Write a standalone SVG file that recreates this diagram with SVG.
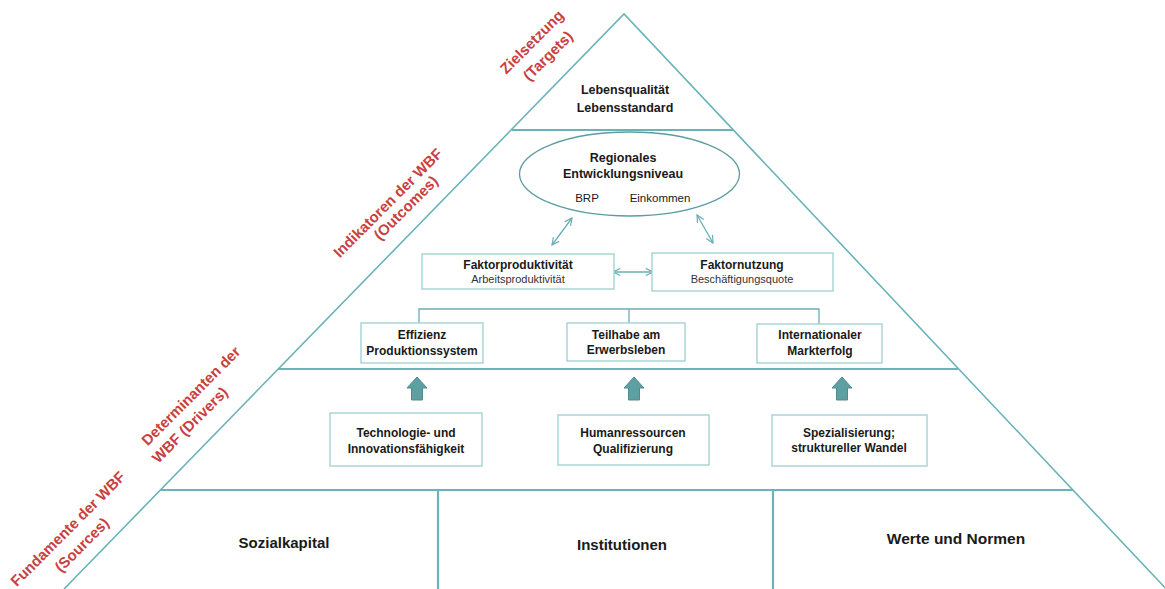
<svg xmlns="http://www.w3.org/2000/svg" width="1165" height="589" viewBox="0 0 1165 589">
<style>
.frame{fill:none;stroke:#6AB4B8;stroke-width:1.6}
.hline{fill:none;stroke:#6AB4B8;stroke-width:2.2}
.box{fill:#fff;stroke:#9CCFD1;stroke-width:1.3}
.conn{fill:none;stroke:#6AAFB2;stroke-width:1.3}
.blk{fill:#5E9FA2;stroke:#4C8C8F;stroke-width:1}
.lab{font-family:"Liberation Sans",Arial,sans-serif;font-weight:bold;font-size:15px;fill:#C9413F;text-anchor:middle}
.b{font-family:"Liberation Sans",Arial,sans-serif;font-weight:bold;font-size:12px;fill:#1a1a1a;text-anchor:middle}
.r{font-family:"Liberation Sans",Arial,sans-serif;font-size:11px;fill:#333;text-anchor:middle}
.big{font-family:"Liberation Sans",Arial,sans-serif;font-weight:bold;font-size:15px;fill:#1a1a1a;text-anchor:middle}
</style>
<defs>
<marker id="ah" viewBox="0 0 10 10" refX="9" refY="5" markerWidth="9" markerHeight="9" markerUnits="userSpaceOnUse" orient="auto-start-reverse">
<path d="M1,1 L9,5 L1,9" fill="none" stroke="#6AAFB2" stroke-width="1.3"/>
</marker>
</defs>
<rect width="1165" height="589" fill="#fff"/>
<g id="pyramid">
<polyline class="frame" points="64,589 624,14 1170,593"/>
<line class="hline" x1="512" y1="130" x2="733" y2="130"/>
<line class="hline" x1="278" y1="369" x2="958" y2="369"/>
<line class="hline" x1="161" y1="490" x2="1073" y2="490"/>
<line class="hline" x1="438" y1="490" x2="438" y2="589"/>
<line class="hline" x1="773" y1="490" x2="773" y2="589"/>
</g>
<g id="labels">
<text class="lab" transform="translate(532,42) rotate(-45)" y="5">Zielsetzung</text>
<text class="lab" transform="translate(548,56) rotate(-45)" y="5">(Targets)</text>
<text class="lab" transform="translate(388,203) rotate(-45)" y="5">Indikatoren der WBF</text>
<text class="lab" transform="translate(406,208) rotate(-45)" y="5">(Outcomes)</text>
<text class="lab" transform="translate(191,396) rotate(-45)" y="5">Determinanten der</text>
<text class="lab" transform="translate(190,425) rotate(-45)" y="5">WBF (Drivers)</text>
<text class="lab" transform="translate(68,529) rotate(-45)" y="5">Fundamente der WBF</text>
<text class="lab" transform="translate(82,545) rotate(-45)" y="5">(Sources)</text>
</g>
<g id="top">
<text class="b" x="625" y="94" style="font-size:12.5px">Lebensqualität</text>
<text class="b" x="625" y="112" style="font-size:12.5px">Lebensstandard</text>
</g>
<g id="regional">
<ellipse cx="629.5" cy="174" rx="110" ry="42" fill="#fff" stroke="#5B9DA0" stroke-width="1.3"/>
<text class="b" x="623" y="162" style="font-size:12.5px">Regionales</text>
<text class="b" x="623" y="178" style="font-size:12.5px">Entwicklungsniveau</text>
<text class="r" x="587" y="202" style="font-size:11.5px;fill:#1a1a1a">BRP</text>
<text class="r" x="660" y="202" style="font-size:11.5px;fill:#1a1a1a">Einkommen</text>
</g>
<g id="connectors">
<line class="conn" x1="572" y1="218" x2="552" y2="245" marker-start="url(#ah)" marker-end="url(#ah)"/>
<line class="conn" x1="697" y1="215" x2="713" y2="243" marker-start="url(#ah)" marker-end="url(#ah)"/>
<line class="conn" x1="613" y1="272" x2="653" y2="272" marker-start="url(#ah)" marker-end="url(#ah)"/>
<polyline class="conn" points="419,323 419,309 819,309 819,324"/>
<line class="conn" x1="629" y1="309" x2="629" y2="323"/>
<polygon class="blk" points="417,377 427,388 422.5,388 422.5,400 411.5,400 411.5,388 407,388"/>
<polygon class="blk" points="634,377 644,388 639.5,388 639.5,400 628.5,400 628.5,388 624,388"/>
<polygon class="blk" points="842,377 852,388 847.5,388 847.5,400 836.5,400 836.5,388 832,388"/>
</g>
<g id="faktorproduktivitaet">
<rect class="box" x="422" y="254" width="192" height="35"/>
<text class="b" x="518" y="269">Faktorproduktivität</text>
<text class="r" x="518" y="283">Arbeitsproduktivität</text>
</g>
<g id="faktornutzung">
<rect class="box" x="652" y="253" width="181" height="38"/>
<text class="b" x="742" y="269">Faktornutzung</text>
<text class="r" x="742" y="283">Beschäftigungsquote</text>
</g>
<g id="effizienz">
<rect class="box" x="361" y="323" width="122" height="40"/>
<text class="b" x="422" y="339">Effizienz</text>
<text class="b" x="422" y="355">Produktionssystem</text>
</g>
<g id="teilhabe">
<rect class="box" x="567" y="323" width="118" height="38"/>
<text class="b" x="626" y="339">Teilhabe am</text>
<text class="b" x="626" y="354">Erwerbsleben</text>
</g>
<g id="markterfolg">
<rect class="box" x="757" y="324" width="125" height="39"/>
<text class="b" x="820" y="339">Internationaler</text>
<text class="b" x="820" y="355">Markterfolg</text>
</g>
<g id="technologie">
<rect class="box" x="330" y="413" width="152" height="53"/>
<text class="b" x="406" y="437">Technologie- und</text>
<text class="b" x="406" y="453">Innovationsfähigkeit</text>
</g>
<g id="humanressourcen">
<rect class="box" x="558" y="415" width="151" height="50"/>
<text class="b" x="633" y="437">Humanressourcen</text>
<text class="b" x="633" y="453">Qualifizierung</text>
</g>
<g id="spezialisierung">
<rect class="box" x="772" y="415" width="155" height="51"/>
<text class="b" x="849" y="437">Spezialisierung;</text>
<text class="b" x="849" y="452">struktureller Wandel</text>
</g>
<g id="fundamente">
<text class="big" x="284" y="548">Sozialkapital</text>
<text class="big" x="622" y="550">Institutionen</text>
<text class="big" x="956" y="544" style="font-size:15.5px">Werte und Normen</text>
</g>
</svg>
